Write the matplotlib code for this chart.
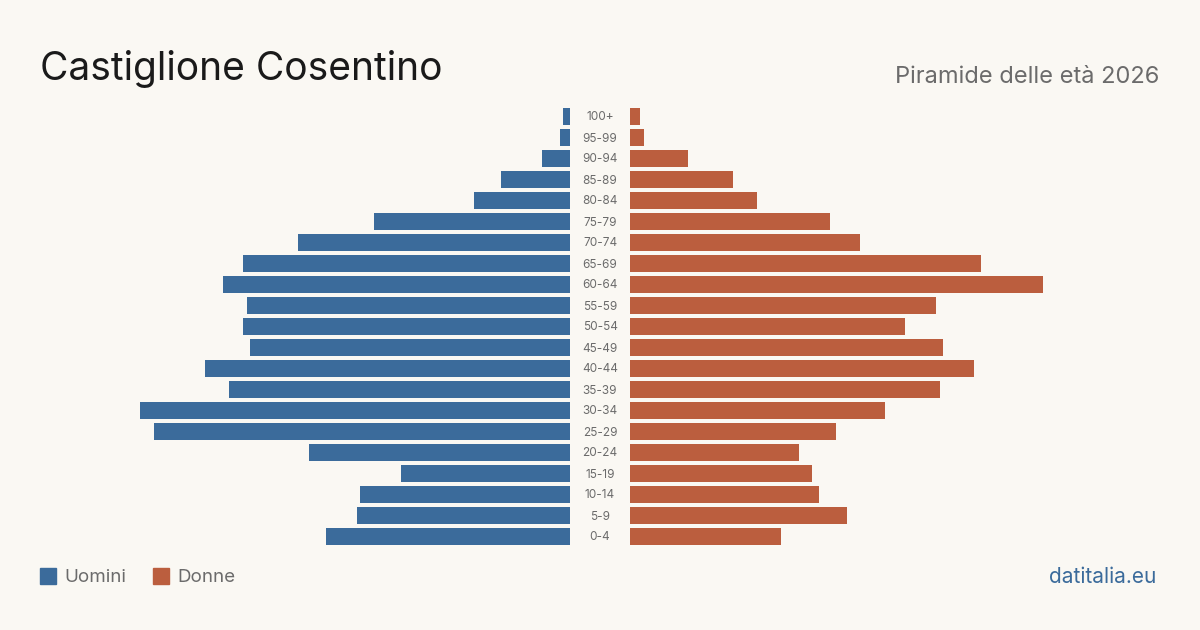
import matplotlib; matplotlib.use("Agg")
import matplotlib.pyplot as plt, numpy as np
from matplotlib.patches import Rectangle

plt.rcParams['font.family'] = ['Inter', 'DejaVu Sans']

# age classes, top to bottom as drawn (relative units)
AGES = ["100+", "95-99", "90-94", "85-89", "80-84", "75-79", "70-74", "65-69", "60-64", "55-59",
        "50-54", "45-49", "40-44", "35-39", "30-34", "25-29", "20-24", "15-19", "10-14", "5-9", "0-4"]
MEN = [7, 10, 28, 69, 96, 196, 272, 327, 347, 323, 327, 320, 365, 341, 430, 416, 261, 169, 210, 213, 244]
WOMEN = [10, 14, 58, 103, 127, 200, 230, 351, 413, 306, 275, 313, 344, 310, 255, 206, 169, 182, 189, 217, 151]

BG = "#faf8f3"; BLUE = "#3b6b9b"; ORANGE = "#bb5e3e"; GRAY = "#6b6b6b"
W, H = 1200, 630
fig = plt.figure(figsize=(12, 6.3), dpi=100, facecolor=BG)

# axes in pixel layout: rows centred from y=116.5 to 536.5
top, bot = 116.5 - 10.5, 536.5 + 10.5
axL = fig.add_axes([40 / W, 1 - bot / H, 530 / W, (bot - top) / H])
axR = fig.add_axes([630 / W, 1 - bot / H, 530 / W, (bot - top) / H])
y = np.arange(len(AGES))
for ax, vals, col in [(axL, MEN, BLUE), (axR, WOMEN, ORANGE)]:
    ax.barh(y, vals, height=17 / 21, color=col)
    ax.set_ylim(len(AGES) - 0.5, -0.5)
    ax.set_xlim(0, 530)
    ax.axis("off")
axL.invert_xaxis()

for i, a in enumerate(AGES):
    fig.text(600 / W, 1 - (117.5 + 21 * i) / H, a, ha="center", va="center", fontsize=8.5, color=GRAY)

fig.text(40 / W, 1 - 69 / H, "Castiglione Cosentino", fontsize=28, color="#1a1a1a", va="center")
fig.text(1159 / W, 1 - 77 / H, "Piramide delle età 2026", fontsize=17, color=GRAY, ha="right", va="center")

for x0, col, lab in [(40, BLUE, "Uomini"), (153, ORANGE, "Donne")]:
    fig.patches.append(Rectangle((x0 / W, 1 - 584 / H), 16 / W, 16 / H, transform=fig.transFigure, color=col))
    fig.text((x0 + 24) / W, 1 - 577 / H, lab, fontsize=13.5, color=GRAY, va="center")
fig.text(1156 / W, 1 - 577 / H, "datitalia.eu", fontsize=15, color=BLUE, ha="right", va="center")

fig.savefig("out.png", dpi=100, facecolor=BG)
